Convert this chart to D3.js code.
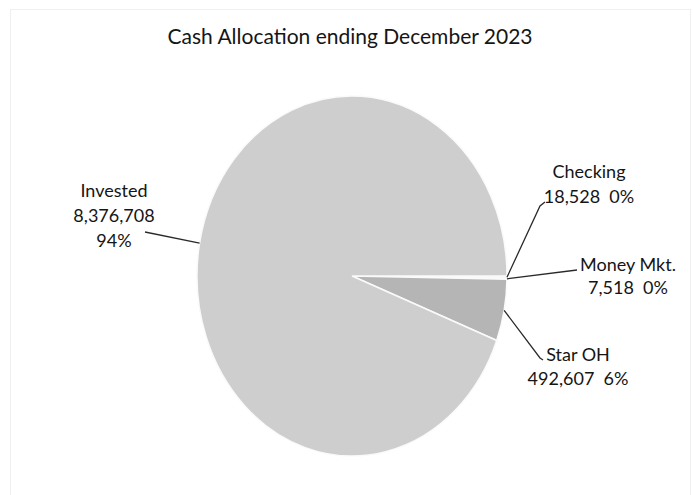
<!DOCTYPE html>
<html>
<head>
<meta charset="utf-8">
<script src="https://cdn.jsdelivr.net/npm/d3@7"></script>
<style>
  body { margin: 0; background: #fff; }
  text { font-family: Lato, 'Open Sans', sans-serif; fill: #151515; }
</style>
</head>
<body>
<div id="chart"></div>
<script>
// data
var categories = ['Checking', 'Money Mkt.', 'Star OH', 'Invested'];
var amounts = [18528, 7518, 492607, 8376708];
var percentLabels = ['0%', '0%', '6%', '94%'];
var colors = ['#ececec', '#f2f2f2', '#b5b5b5', '#cecece'];

var width = 693,
  height = 495,
  cx = 352, cy = 276,
  rx = 155, ry = 180;

var svg = d3.select('#chart')
  .append('svg')
  .attr('width', width)
  .attr('height', height);

// faint chart border from the scan
svg.append('rect')
  .attr('x', 10.5).attr('y', 9.5)
  .attr('width', 680).attr('height', 500)
  .attr('fill', 'none')
  .attr('stroke', '#f0f0f0');

svg.append('text')
  .attr('x', 350)
  .attr('y', 44)
  .attr('text-anchor', 'middle')
  .attr('font-size', '21px')
  .text('Cash Allocation ending December 2023');

var pie = d3.pie()
  .sort(null)
  .startAngle(Math.PI / 2)
  .endAngle(Math.PI / 2 + 2 * Math.PI)
  .value(function(d) { return d; });

var arcs = pie(amounts);

var arc = d3.arc().innerRadius(0).outerRadius(rx);

var g = svg.append('g')
  .attr('transform', 'translate(' + cx + ',' + cy + ') scale(1,' + (ry / rx) + ')');

g.selectAll('path')
  .data(arcs)
  .enter()
  .append('path')
  .attr('d', arc)
  .attr('fill', function(d, i) { return colors[i]; })
  .attr('stroke', '#fafafa')
  .attr('stroke-width', 1.5)
  .attr('vector-effect', 'non-scaling-stroke');

// point on the (stretched) edge at the middle of a slice
function edgePoint(d) {
  var a = (d.startAngle + d.endAngle) / 2;
  return [cx + Math.sin(a) * rx, cy - Math.cos(a) * ry];
}

// label layout: line anchor points and text positions
var labelLayout = [
  { bend: [[540, 206], [545, 202]], x: 589, y: [178, 203] },
  { bend: [[577, 270]], x: 628, y: [271, 294] },
  { bend: [[540, 358], [543, 360]], x: 578, y: [361, 385] },
  { bend: [[145, 232]], x: 114, y: [197, 222, 247] }
];

var fmt = d3.format(',');

arcs.forEach(function(d, i) {
  var lay = labelLayout[i];
  var pts = [edgePoint(d)].concat(lay.bend);
  svg.append('path')
    .attr('d', d3.line()(pts))
    .attr('fill', 'none')
    .attr('stroke', '#2a2a2a')
    .attr('stroke-width', 1.3);

  var lines;
  if (lay.y.length === 3) {
    lines = [categories[i], fmt(amounts[i]), percentLabels[i]];
  } else {
    lines = [categories[i], fmt(amounts[i]) + '\u00a0\u00a0' + percentLabels[i]];
  }
  lines.forEach(function(t, j) {
    svg.append('text')
      .attr('x', lay.x)
      .attr('y', lay.y[j])
      .attr('text-anchor', 'middle')
      .attr('font-size', '18px')
      .text(t);
  });
});
</script>
</body>
</html>
